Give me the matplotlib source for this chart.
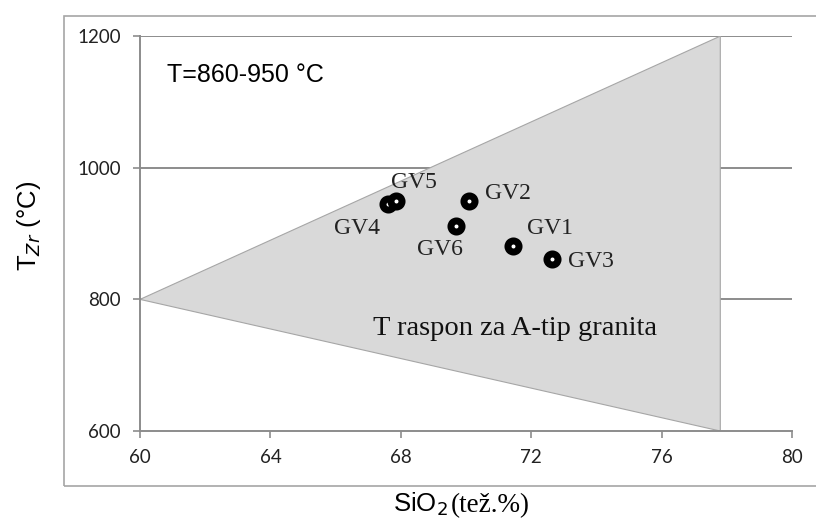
import matplotlib.pyplot as plt
from matplotlib.patches import Polygon, Rectangle

# data
samples = ['GV1', 'GV2', 'GV3', 'GV4', 'GV5', 'GV6']
sio2 = [71.45, 70.1, 72.65, 67.6, 67.85, 69.7]
tzr = [881, 950, 861, 945, 949, 911]

# A-type granite T range (triangle vertices)
field_x = [60, 77.8, 77.8]
field_y = [800, 1200, 600]

# label offsets in points (dx, dy)
offsets = {'GV1': (10, 13), 'GV2': (11.5, 5), 'GV3': (11, -1.5),
           'GV4': (-39, -17.5), 'GV5': (-3.5, 13.5), 'GV6': (-28, -17)}

xticks = [60, 64, 68, 72, 76, 80]
yticks = [600, 800, 1000, 1200]

fig = plt.figure(figsize=(8.16, 5.21), dpi=100)
ax = fig.add_axes([0.1716, 0.1727, 0.799, 0.758])

# outer frame
fig.patches.append(Rectangle((64 / 816, 1 - 486 / 521), 1.0, (486 - 16) / 521,
                             transform=fig.transFigure, fill=False,
                             edgecolor='#a6a6a6', lw=1.2, zorder=0))

for y in yticks[1:]:
    ax.axhline(y, color='#8c8c8c', lw=1.4, zorder=1)

ax.add_patch(Polygon(list(zip(field_x, field_y)), closed=True,
                     facecolor='#d9d9d9', edgecolor='#a6a6a6', lw=0.8, zorder=2))

ax.plot(sio2, tzr, 'o', ms=8, mew=5, mfc='white', mec='black',
        ls='none', zorder=4)
for name, x, y in zip(samples, sio2, tzr):
    ax.annotate(name, (x, y), xytext=offsets[name], textcoords='offset points',
                ha='left', va='center', fontsize=17,
                family='Liberation Serif', color='#222222', zorder=5)

ax.text(60.83, 1130, 'T=860-950 °C', fontsize=18, family='Liberation Sans',
        ha='left', va='baseline')
ax.text(67.15, 746, 'T raspon za A-tip granita', fontsize=20.5,
        family='Liberation Serif', ha='left', va='baseline', color='#111111')

ax.set_xlim(60, 80)
ax.set_ylim(600, 1200)
ax.set_xticks(xticks)
ax.set_yticks(yticks)
for s in ['top', 'right']:
    ax.spines[s].set_visible(False)
for s in ['left', 'bottom']:
    ax.spines[s].set_color('#8c8c8c')
    ax.spines[s].set_linewidth(1.4)
ax.tick_params(axis='x', direction='out', length=5, color='#8c8c8c',
               width=1.2, labelsize=13.5, pad=8, labelcolor='#222222')
ax.tick_params(axis='y', direction='out', length=5, color='#8c8c8c',
               width=1.2, labelsize=13.5, pad=9, labelcolor='#222222')
for lab in ax.get_xticklabels() + ax.get_yticklabels():
    lab.set_family('Lato')

# axis titles
fig.text(0.549, 1 - 512 / 521, 'SiO$_2$', fontsize=18.5, family='Liberation Sans',
         ha='right', va='baseline')
fig.text(0.553, 1 - 512 / 521, '(tež.%)', fontsize=19.5, family='Liberation Serif',
         ha='left', va='baseline')
fig.text(0.036, 0.566, r'T$_{Zr}$ (°C)', fontsize=18.5, family='Liberation Sans',
         rotation=90, ha='center', va='center')

fig.savefig('out.png', dpi=100)
